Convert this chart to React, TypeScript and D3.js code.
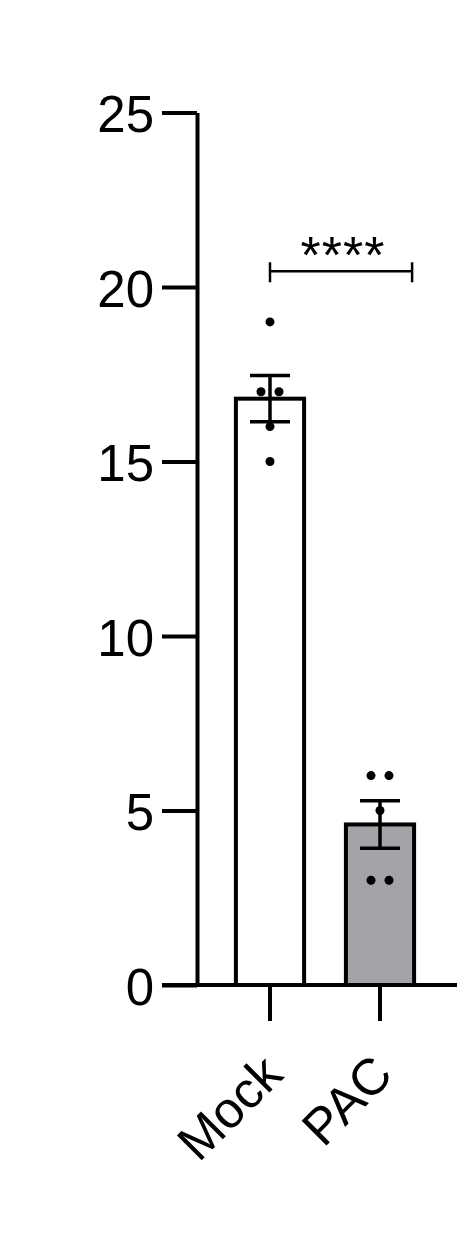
import { useEffect, useRef } from 'react';
import * as d3 from 'd3';

// groups and raw replicate values
const groups = ['Mock', 'PAC'];
const mockValues = [19, 17, 17, 16, 15];
const pacValues = [6, 6, 5, 3, 3];
const groupFills = ['#ffffff', '#a3a3a8'];
const yTicks = [0, 5, 10, 15, 20, 25];
const sigLabel = '****';
const sigLevel = 20.45;

const W = 458;
const H = 1258;
const FONT = "'Liberation Sans', Arial, Helvetica, sans-serif";

export default function App() {
  const ref = useRef<SVGSVGElement>(null);

  useEffect(() => {
    if (!ref.current) return;
    const svg = d3.select(ref.current);
    svg.selectAll('*').remove();

    const axisX = 197;
    const tickLen = 35;

    const y = d3.scaleLinear().domain([0, 25]).range([985, 112.5]);
    const x = d3.scaleBand<string>()
      .domain(groups)
      .range([215, 435])
      .paddingInner(0.38)
      .paddingOuter(0.19);

    const series = [mockValues, pacValues].map((vals, i) => {
      const mean = d3.mean(vals)!;
      const sem = d3.deviation(vals)! / Math.sqrt(vals.length);
      return { key: groups[i], vals, mean, sem, fill: groupFills[i] };
    });

    const cx = (k: string) => x(k)! + x.bandwidth() / 2;

    // bars
    svg.append('g')
      .selectAll('rect')
      .data(series)
      .join('rect')
      .attr('x', d => x(d.key)!)
      .attr('y', d => y(d.mean))
      .attr('width', x.bandwidth())
      .attr('height', d => y(0) - y(d.mean))
      .attr('fill', d => d.fill)
      .attr('stroke', '#000')
      .attr('stroke-width', 4);

    // points: spread duplicates sideways
    const spread = 9;
    const pts: { x: number; v: number }[] = [];
    series.forEach(s => {
      const counts = d3.rollup(s.vals, v => v.length, v => v);
      const seen = new Map<number, number>();
      s.vals.forEach(v => {
        const n = counts.get(v)!;
        const k = seen.get(v) ?? 0;
        seen.set(v, k + 1);
        const off = n > 1 ? (k - (n - 1) / 2) * 2 * spread : 0;
        pts.push({ x: cx(s.key) + off, v });
      });
    });

    // error bars
    const eb = svg.append('g').attr('stroke', '#000').attr('stroke-width', 3.5);
    series.forEach(s => {
      const c = cx(s.key);
      eb.append('line')
        .attr('x1', c).attr('x2', c)
        .attr('y1', y(s.mean - s.sem)).attr('y2', y(s.mean + s.sem));
      [s.mean - s.sem, s.mean + s.sem].forEach(v => {
        eb.append('line')
          .attr('x1', c - 20).attr('x2', c + 20)
          .attr('y1', y(v)).attr('y2', y(v));
      });
    });

    svg.append('g')
      .selectAll('circle')
      .data(pts)
      .join('circle')
      .attr('cx', d => d.x)
      .attr('cy', d => y(d.v))
      .attr('r', 4.5)
      .attr('fill', '#000');

    // y axis
    const yAxis = d3.axisLeft(y)
      .tickValues(yTicks)
      .tickSize(tickLen)
      .tickSizeOuter(0)
      .tickPadding(8);
    const gy = svg.append('g')
      .attr('transform', `translate(${axisX},0)`)
      .call(yAxis);
    gy.select('.domain').attr('stroke-width', 4);
    gy.selectAll('.tick line').attr('stroke-width', 4);
    gy.selectAll('.tick text')
      .attr('font-family', FONT)
      .attr('font-size', 51)
      .attr('dy', '0.38em')
      .attr('fill', '#000');

    // x axis
    svg.append('line')
      .attr('x1', axisX - tickLen).attr('x2', W - 1)
      .attr('y1', y(0)).attr('y2', y(0))
      .attr('stroke', '#000').attr('stroke-width', 4);
    const xAxis = d3.axisBottom(x).tickSize(36).tickSizeOuter(0).tickFormat(() => '');
    const gx = svg.append('g')
      .attr('transform', `translate(0,${y(0)})`)
      .call(xAxis);
    gx.select('.domain').remove();
    gx.selectAll('.tick line').attr('stroke-width', 4);

    svg.append('g')
      .selectAll('text')
      .data(groups)
      .join('text')
      .attr('transform', d => `translate(${cx(d) + 15},${y(0) + 92}) rotate(-45)`)
      .attr('text-anchor', 'end')
      .attr('font-family', FONT)
      .attr('font-size', 51)
      .attr('fill', '#000')
      .text(d => d);

    // significance bracket: from Mock centre to the right edge of the PAC bar
    const sy = y(sigLevel);
    const x1 = cx(groups[0]);
    const x2 = x(groups[1])! + x.bandwidth() - 2;
    const br = svg.append('g').attr('stroke', '#000').attr('stroke-width', 2.5);
    br.append('line').attr('x1', x1).attr('x2', x2).attr('y1', sy).attr('y2', sy);
    [x1, x2].forEach(xx => {
      br.append('line').attr('x1', xx).attr('x2', xx).attr('y1', sy - 9).attr('y2', sy + 11);
    });
    svg.append('text')
      .attr('x', (x1 + x2) / 2 + 2)
      .attr('y', sy + 2)
      .attr('text-anchor', 'middle')
      .attr('font-family', FONT)
      .attr('font-size', 52)
      .attr('letter-spacing', 1)
      .attr('fill', '#000')
      .text(sigLabel);
  }, []);

  return (
    <svg
      ref={ref}
      width={W}
      height={H}
      style={{ position: 'absolute', left: 0, top: 0, background: '#fff' }}
    />
  );
}
